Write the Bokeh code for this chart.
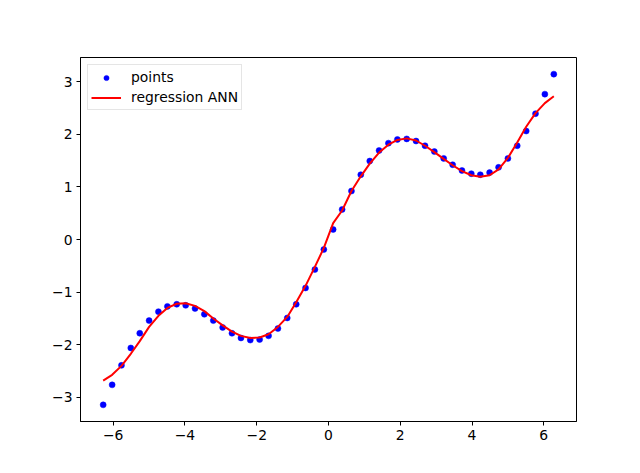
from bokeh.plotting import figure
from bokeh.models import Range1d, FixedTicker, Legend, LegendItem
from bokeh.embed import file_html
from bokeh.resources import INLINE

x_pts = [-6.28, -6.03, -5.77, -5.51, -5.26, -5.00, -4.74, -4.49, -4.23, -3.98,
         -3.72, -3.46, -3.21, -2.95, -2.69, -2.44, -2.18, -1.92, -1.67, -1.41,
         -1.15, -0.90, -0.64, -0.38, -0.13, 0.13, 0.38, 0.64, 0.90, 1.15,
         1.41, 1.67, 1.92, 2.18, 2.44, 2.69, 2.95, 3.21, 3.46, 3.72,
         3.98, 4.23, 4.49, 4.74, 5.00, 5.26, 5.51, 5.77, 6.03, 6.28]
y_pts = [-3.14, -2.76, -2.39, -2.06, -1.78, -1.54, -1.37, -1.27, -1.23, -1.25,
         -1.31, -1.42, -1.54, -1.67, -1.78, -1.87, -1.91, -1.90, -1.83, -1.69,
         -1.49, -1.23, -0.92, -0.57, -0.19, 0.19, 0.57, 0.92, 1.23, 1.49,
         1.69, 1.83, 1.90, 1.91, 1.87, 1.78, 1.67, 1.54, 1.42, 1.31,
         1.25, 1.23, 1.27, 1.37, 1.54, 1.78, 2.06, 2.39, 2.76, 3.14]
y_ann = [-2.68, -2.57, -2.40, -2.17, -1.93, -1.66, -1.45, -1.30, -1.22, -1.21,
         -1.26, -1.36, -1.50, -1.63, -1.75, -1.83, -1.87, -1.86, -1.80, -1.66,
         -1.47, -1.19, -0.88, -0.52, -0.16, 0.31, 0.55, 0.92, 1.20, 1.44,
         1.65, 1.80, 1.89, 1.92, 1.88, 1.78, 1.66, 1.53, 1.41, 1.30,
         1.22, 1.19, 1.22, 1.33, 1.55, 1.84, 2.14, 2.40, 2.59, 2.72]
x_ticks = [-6, -4, -2, 0, 2, 4, 6]
y_ticks = [-3, -2, -1, 0, 1, 2, 3]

p = figure(width=640, height=473, output_backend="svg", toolbar_location=None,
           x_range=Range1d(-6.912, 6.912), y_range=Range1d(-3.456, 3.456),
           min_border_left=80, min_border_right=64, min_border_top=57, min_border_bottom=52)
p.background_fill_color = "white"
p.border_fill_color = "white"
p.outline_line_color = "black"
p.outline_line_alpha = 1.0
p.outline_line_width = 1
p.xgrid.visible = False
p.ygrid.visible = False

def fmt(v):
    return str(v).replace("-", "\u2212")

for ax, ticks in ((p.xaxis[0], x_ticks), (p.yaxis[0], y_ticks)):
    ax.ticker = FixedTicker(ticks=ticks)
    ax.major_label_overrides = {t: fmt(t) for t in ticks}
    ax.minor_tick_line_color = None
    ax.major_tick_in = 0
    ax.major_tick_out = 4
    ax.major_tick_line_color = "black"
    ax.axis_line_color = "black"
    ax.major_label_text_font = "DejaVu Sans"
    ax.major_label_text_font_size = "13.9px"
    ax.major_label_text_color = "black"
    ax.major_label_standoff = 4

r_pts = p.scatter(x_pts, y_pts, size=6, color="#0000ff", line_color="#0000ff", line_width=0.5)
r_ann = p.line(x_pts, y_ann, line_width=2, color="#ff0000")

legend = Legend(items=[LegendItem(label="points", renderers=[r_pts]),
                       LegendItem(label="regression ANN", renderers=[r_ann])],
                location="top_left")
legend.label_text_font = "DejaVu Sans"
legend.label_text_font_size = "13.9px"
legend.label_text_color = "black"
legend.border_line_color = "#cccccc"
legend.border_line_width = 1
legend.background_fill_alpha = 0.8
legend.margin = 7
legend.padding = 3
legend.spacing = 2
legend.glyph_width = 30
legend.glyph_height = 13
legend.label_height = 18
legend.label_standoff = 10
p.add_layout(legend)

open("out.html", "w").write(file_html(p, INLINE))
